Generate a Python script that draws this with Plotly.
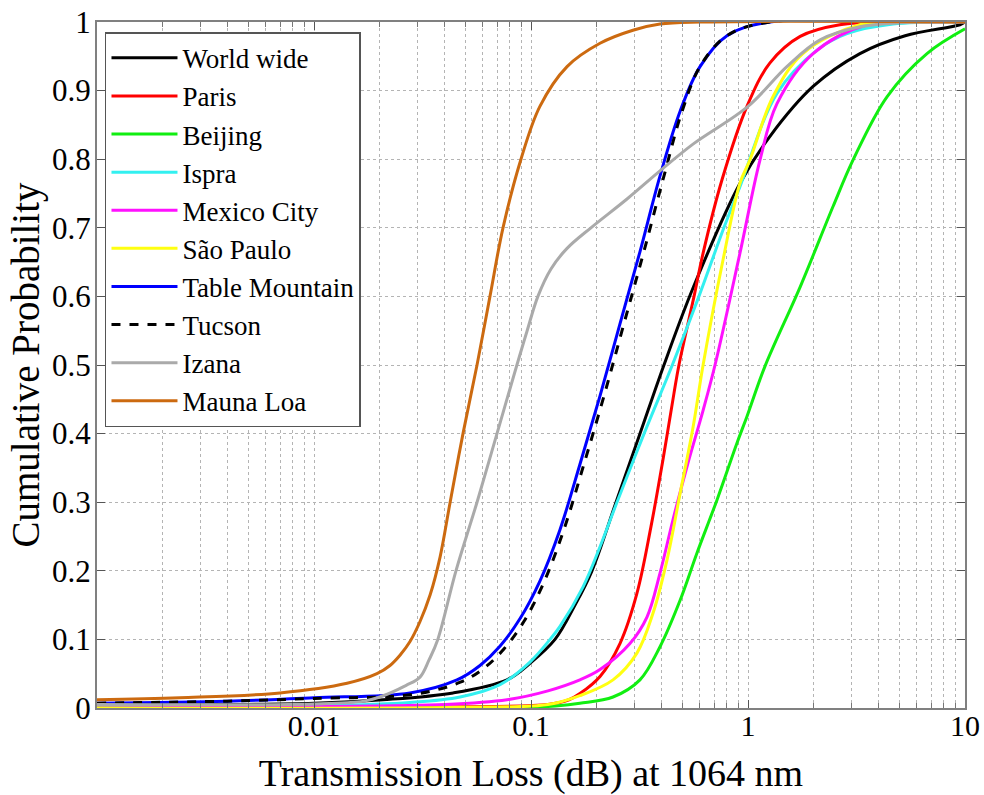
import plotly.graph_objects as go

# Cumulative distributions of transmission loss (dB) at 1064 nm
world_x = [0.001, 0.01, 0.0208, 0.0438, 0.0775, 0.0989, 0.129, 0.1595, 0.191, 0.2465, 0.318, 0.41, 0.561, 0.919, 1.26, 1.995, 3.28, 5.30, 9.48, 10]
world_y = [0.004, 0.007, 0.012, 0.022, 0.041, 0.065, 0.10, 0.15, 0.20, 0.30, 0.40, 0.50, 0.614, 0.765, 0.833, 0.906, 0.954, 0.98, 0.996, 1.0]

paris_x = [0.001, 0.0497, 0.1197, 0.1496, 0.168, 0.208, 0.257, 0.3077, 0.357, 0.4056, 0.456, 0.4806, 0.564, 0.621, 0.759, 0.989, 1.26, 1.74, 2.65, 5.0, 10]
paris_y = [0.0, 0.002, 0.005, 0.012, 0.021, 0.046, 0.094, 0.167, 0.264, 0.362, 0.459, 0.50, 0.60, 0.663, 0.77, 0.877, 0.94, 0.979, 0.996, 1.0, 1.0]

beijing_x = [0.001, 0.0497, 0.1, 0.130, 0.168, 0.2388, 0.3177, 0.3926, 0.4866, 0.582, 0.719, 0.889, 0.989, 1.197, 1.74, 2.465, 3.05, 4.37, 6.68, 10]
beijing_y = [0.0, 0.0, 0.001, 0.003, 0.007, 0.016, 0.041, 0.089, 0.157, 0.226, 0.303, 0.386, 0.425, 0.498, 0.614, 0.731, 0.799, 0.891, 0.954, 0.99]

ispra_x = [0.001, 0.01, 0.0277, 0.0471, 0.072, 0.0989, 0.1224, 0.136, 0.174, 0.208, 0.249, 0.332, 0.448, 0.594, 0.774, 0.918, 1.36, 2.08, 2.86, 4.66, 10]
ispra_y = [0.0, 0.003, 0.008, 0.016, 0.034, 0.067, 0.10, 0.119, 0.177, 0.235, 0.30, 0.40, 0.50, 0.60, 0.70, 0.76, 0.896, 0.959, 0.983, 0.997, 1.0]

mexico_x = [0.001, 0.01, 0.0402, 0.0775, 0.1197, 0.168, 0.208, 0.2857, 0.3427, 0.3926, 0.4508, 0.5236, 0.621, 0.7047, 0.918, 1.136, 1.36, 1.995, 3.53, 6.9, 10]
mexico_y = [0.0, 0.002, 0.005, 0.012, 0.025, 0.041, 0.056, 0.094, 0.133, 0.196, 0.274, 0.352, 0.434, 0.50, 0.663, 0.799, 0.881, 0.954, 0.996, 1.0, 1.0]

saopaulo_x = [0.001, 0.0497, 0.1197, 0.168, 0.2388, 0.3077, 0.3648, 0.4236, 0.4866, 0.5587, 0.621, 0.767, 0.918, 1.021, 1.303, 1.79, 3.28, 6.2, 10]
saopaulo_y = [0.0, 0.001, 0.005, 0.018, 0.041, 0.08, 0.138, 0.216, 0.313, 0.41, 0.50, 0.653, 0.765, 0.799, 0.891, 0.954, 0.996, 1.0, 1.0]

table_x = [0.001, 0.00397, 0.01, 0.0277, 0.0456, 0.0582, 0.0719, 0.0889, 0.1099, 0.136, 0.168, 0.208, 0.257, 0.3177, 0.3926, 0.4866, 0.601, 0.80, 1.26, 10]
table_y = [0.007, 0.010, 0.015, 0.022, 0.041, 0.062, 0.09, 0.13, 0.185, 0.26, 0.355, 0.455, 0.56, 0.665, 0.775, 0.87, 0.935, 0.98, 1.0, 1.0]

tucson_x = [0.001, 0.00397, 0.01, 0.0289, 0.0476, 0.0607, 0.075, 0.0927, 0.1146, 0.1418, 0.1752, 0.217, 0.268, 0.331, 0.4095, 0.497, 0.601, 0.80, 1.26, 10]
tucson_y = [0.007, 0.010, 0.014, 0.020, 0.038, 0.058, 0.086, 0.126, 0.183, 0.26, 0.355, 0.455, 0.56, 0.665, 0.775, 0.87, 0.935, 0.98, 1.0, 1.0]

izana_x = [0.001, 0.01, 0.01698, 0.0201, 0.0266, 0.0308, 0.0339, 0.0372, 0.0451, 0.0564, 0.0697, 0.0861, 0.0960, 0.1076, 0.1236, 0.1466, 0.1888, 0.277, 0.393, 0.558, 1.0, 1.51, 2.15, 3.28, 5.01, 10]
izana_y = [0.005, 0.006, 0.010, 0.016, 0.033, 0.045, 0.07, 0.10, 0.20, 0.30, 0.40, 0.50, 0.55, 0.60, 0.64, 0.67, 0.70, 0.742, 0.783, 0.822, 0.877, 0.935, 0.974, 0.993, 0.999, 1.0]

mauna_x = [0.001, 0.00241, 0.00697, 0.0142, 0.0195, 0.0224, 0.0249, 0.0277, 0.0307, 0.0343, 0.0381, 0.0424, 0.0486, 0.0564, 0.0647, 0.0743, 0.0899, 0.1099, 0.1466, 0.208, 0.295, 0.393, 0.601, 10]
mauna_y = [0.012, 0.015, 0.022, 0.036, 0.05, 0.062, 0.077, 0.097, 0.125, 0.165, 0.22, 0.30, 0.40, 0.50, 0.60, 0.70, 0.80, 0.877, 0.935, 0.969, 0.988, 0.997, 1.0, 1.0]

series = [
    ("World wide", world_x, world_y, "#000000", "solid"),
    ("Paris", paris_x, paris_y, "#ff0000", "solid"),
    ("Beijing", beijing_x, beijing_y, "#11ee11", "solid"),
    ("Ispra", ispra_x, ispra_y, "#33f0f0", "solid"),
    ("Mexico City", mexico_x, mexico_y, "#ff11ff", "solid"),
    ("São Paulo", saopaulo_x, saopaulo_y, "#ffff11", "solid"),
    ("Table Mountain", table_x, table_y, "#0000ff", "solid"),
    ("Tucson", tucson_x, tucson_y, "#000000", "dash"),
    ("Izana", izana_x, izana_y, "#aaaaaa", "solid"),
    ("Mauna Loa", mauna_x, mauna_y, "#cc6a10", "solid"),
]

y_ticks = [round(0.1 * i, 1) for i in range(11)]
y_text = ["0"] + [f"{v:.1f}" for v in y_ticks[1:-1]] + ["1"]
x_ticks = [0.01, 0.1, 1, 10]
x_text = ["0.01", "0.1", "1", "10"]
x_minor = [m * 10.0 ** e for e in range(-3, 1) for m in range(2, 10)]

serif = "Liberation Serif, Times New Roman, serif"

fig = go.Figure()
for name, xs, ys, color, dash in series:
    fig.add_trace(go.Scatter(
        x=xs, y=ys, name=name, mode="lines",
        line=dict(color=color, width=3, dash=dash, shape="spline", smoothing=1.0),
    ))

grid_color = "#b4b4b4"
fig.update_layout(
    width=984, height=795,
    margin=dict(l=97, r=19, t=22, b=87),
    paper_bgcolor="white", plot_bgcolor="white",
    font=dict(family=serif, size=30, color="black"),
    showlegend=True,
    legend=dict(
        x=0.0092, y=0.985, xanchor="left", yanchor="top",
        bgcolor="white", bordercolor="#555555", borderwidth=1.5,
        font=dict(family=serif, size=27, color="black"),
        itemwidth=66, tracegroupgap=0,
    ),
    xaxis=dict(
        type="log", range=[-3, 1], automargin=False,
        tickmode="array", tickvals=x_ticks, ticktext=x_text,
        ticks="inside", ticklen=8, tickcolor="#555555",
        ticklabelstandoff=-10,
        showline=True, linecolor="#808080", linewidth=2, mirror="allticks",
        showgrid=True, gridcolor=grid_color, griddash="dot", gridwidth=1,
        minor=dict(tickvals=x_minor, ticks="inside", ticklen=5, tickcolor="#777777",
                   showgrid=True, gridcolor=grid_color, griddash="dot", gridwidth=1),
        zeroline=False,
        title=dict(text="Transmission Loss (dB) at 1064 nm", font=dict(family=serif, size=38), standoff=18),
        tickfont=dict(family=serif, size=30),
    ),
    yaxis=dict(
        range=[0, 1], automargin=False,
        tickmode="array", tickvals=y_ticks, ticktext=y_text,
        ticks="inside", ticklen=8, tickcolor="#555555",
        ticklabelstandoff=-2,
        showline=True, linecolor="#808080", linewidth=2, mirror="allticks",
        showgrid=True, gridcolor=grid_color, griddash="dot", gridwidth=1,
        zeroline=False,
        title=dict(text="Cumulative Probability", font=dict(family=serif, size=39), standoff=0),
        tickfont=dict(family=serif, size=31),
    ),
)

fig.write_html("out.html")
